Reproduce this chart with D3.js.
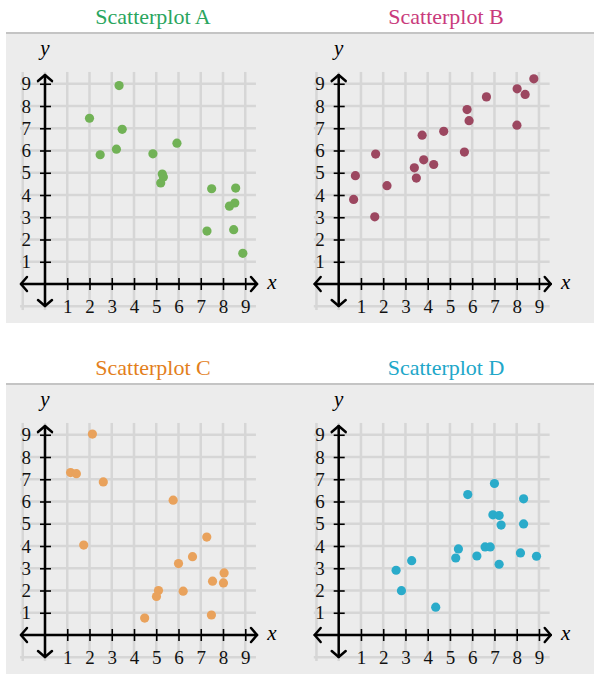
<!DOCTYPE html>
<html>
<head>
<meta charset="utf-8">
<script src="https://cdn.jsdelivr.net/npm/d3@7"></script>
<style>
  body { margin: 0; background: #fff; }
</style>
</head>
<body>
<script>
// chart data
const titles = ["Scatterplot A", "Scatterplot B", "Scatterplot C", "Scatterplot D"];
const tickValues = [1, 2, 3, 4, 5, 6, 7, 8, 9];
const gridValues = [-1, 0, 1, 2, 3, 4, 5, 6, 7, 8, 9];

const pointsA = [
    [2.0, 7.45], [3.33, 8.92], [3.47, 6.95], [2.48, 5.81], [3.21, 6.06],
    [4.85, 5.85], [5.93, 6.33], [5.27, 4.94], [5.32, 4.81], [5.2, 4.54],
    [7.49, 4.28], [8.57, 4.31], [8.29, 3.5], [8.53, 3.64], [7.28, 2.38],
    [8.48, 2.44], [8.89, 1.38]
];
const pointsB = [
    [0.67, 3.8], [0.75, 4.87], [1.62, 3.02], [1.66, 5.84], [2.17, 4.42],
    [3.4, 5.22], [3.49, 4.76], [3.75, 6.69], [3.82, 5.58], [4.27, 5.37],
    [4.72, 6.86], [5.65, 5.93], [5.77, 7.84], [5.86, 7.34], [6.64, 8.41],
    [8.01, 7.14], [8.02, 8.77], [8.38, 8.52], [8.77, 9.22]
];
const pointsC = [
    [1.15, 7.3], [1.41, 7.25], [2.13, 9.03], [2.62, 6.88], [1.74, 4.04],
    [5.76, 6.06], [7.27, 4.4], [6.63, 3.52], [6.0, 3.21], [8.05, 2.79],
    [7.53, 2.42], [8.02, 2.34], [6.21, 1.97], [5.1, 2.0], [5.01, 1.73],
    [4.48, 0.76], [7.48, 0.9]
];
const pointsD = [
    [2.58, 2.91], [2.82, 1.99], [3.28, 3.34], [4.36, 1.25], [5.26, 3.46],
    [5.38, 3.87], [5.8, 6.31], [6.21, 3.55], [6.58, 3.96], [6.81, 3.96],
    [7.0, 6.81], [6.93, 5.4], [7.21, 5.37], [7.3, 4.94], [7.21, 3.18],
    [8.17, 3.69], [8.31, 6.12], [8.31, 4.99], [8.89, 3.54]
];
const allPoints = [pointsA, pointsB, pointsC, pointsD];

// styling
const titleColors = ["#2aa55e", "#c93a7c", "#e37f1c", "#21a7c9"];
const dotColors = ["#71b256", "#9c4760", "#e9a25c", "#2aabca"];
const SERIF = "'Liberation Serif'";

const WIDTH = 598, HEIGHT = 680;
const UNIT = 22.25;
const COL_X = [45, 338.7];      // origin x per column
const COL_TITLE = [153, 446];
const ROW_TOP = [33, 384];      // grey rule per row

const svg = d3.select("body").append("svg")
    .attr("width", WIDTH)
    .attr("height", HEIGHT);

// row backgrounds
ROW_TOP.forEach(top => {
    svg.append("rect")
        .attr("x", 6).attr("y", top + 1)
        .attr("width", 588).attr("height", 289)
        .attr("fill", "#ececec");
    svg.append("line")
        .attr("x1", 6).attr("x2", 594)
        .attr("y1", top).attr("y2", top)
        .attr("stroke", "#c4c4c4")
        .attr("stroke-width", 2);
});

allPoints.forEach((points, i) => {
    const col = i % 2, row = Math.floor(i / 2);
    const ox = COL_X[col];
    const oy = ROW_TOP[row] + 251;

    const xScale = d3.scaleLinear().domain([0, 9]).range([ox, ox + 9 * UNIT]);
    const yScale = d3.scaleLinear().domain([0, 9]).range([oy, oy - 9 * UNIT]);

    const g = svg.append("g");

    // title
    svg.append("text")
        .attr("x", COL_TITLE[col])
        .attr("y", ROW_TOP[row] - 9)
        .attr("text-anchor", "middle")
        .style("font-family", SERIF)
        .style("font-size", "22px")
        .attr("fill", titleColors[i])
        .text(titles[i]);

    // grid
    g.append("g").selectAll("line")
        .data(gridValues)
        .join("line")
        .attr("x1", d => xScale(d)).attr("x2", d => xScale(d))
        .attr("y1", yScale(9.53)).attr("y2", yScale(-1.17))
        .attr("stroke", "#d6d6d6")
        .attr("stroke-width", 2.5);
    g.append("g").selectAll("line")
        .data(gridValues)
        .join("line")
        .attr("y1", d => yScale(d)).attr("y2", d => yScale(d))
        .attr("x1", xScale(-1.12)).attr("x2", xScale(9.48))
        .attr("stroke", "#d6d6d6")
        .attr("stroke-width", 2.5);

    // axis lines with arrow heads
    const axisLines = g.append("g")
        .attr("stroke", "#000")
        .attr("stroke-width", 2.5)
        .attr("fill", "none")
        .attr("stroke-linecap", "round")
        .attr("stroke-linejoin", "round");
    const x0 = xScale(-1.08), x1 = xScale(9.53);
    const y0 = yScale(-0.99), y1 = yScale(9.39);
    axisLines.append("line").attr("x1", x0).attr("x2", x1).attr("y1", oy).attr("y2", oy);
    axisLines.append("line").attr("x1", ox).attr("x2", ox).attr("y1", y0).attr("y2", y1);
    const head = 7;
    axisLines.append("path").attr("d", `M${x1 - 6},${oy - head}L${x1},${oy}L${x1 - 6},${oy + head}`);
    axisLines.append("path").attr("d", `M${x0 + 6},${oy - head}L${x0},${oy}L${x0 + 6},${oy + head}`);
    axisLines.append("path").attr("d", `M${ox - head},${y1 + 6}L${ox},${y1}L${ox + head},${y1 + 6}`);
    axisLines.append("path").attr("d", `M${ox - head},${y0 - 6}L${ox},${y0}L${ox + head},${y0 - 6}`);

    // ticks via d3 axes
    const xAxis = d3.axisBottom(xScale)
        .tickValues(tickValues)
        .tickSize(6)
        .tickPadding(10)
        .tickFormat(d3.format("d"));
    const xAxisG = g.append("g")
        .attr("transform", `translate(0, ${oy})`)
        .call(xAxis);
    xAxisG.select(".domain").remove();
    xAxisG.selectAll(".tick line")
        .attr("y1", -6).attr("y2", 6)
        .attr("stroke", "#000").attr("stroke-width", 1.6);
    xAxisG.selectAll(".tick text")
        .style("font-family", SERIF)
        .style("font-size", "19px")
        .attr("fill", "#111");

    const yAxis = d3.axisLeft(yScale)
        .tickValues(tickValues)
        .tickSize(5)
        .tickPadding(9)
        .tickFormat(d3.format("d"));
    const yAxisG = g.append("g")
        .attr("transform", `translate(${ox}, 0)`)
        .call(yAxis);
    yAxisG.select(".domain").remove();
    yAxisG.selectAll(".tick line")
        .attr("x1", -5).attr("x2", 6)
        .attr("stroke", "#000").attr("stroke-width", 1.6);
    yAxisG.selectAll(".tick text")
        .style("font-family", SERIF)
        .style("font-size", "19px")
        .attr("fill", "#111");

    // axis labels
    g.append("text")
        .attr("x", ox).attr("y", yScale(10.2) - 2)
        .attr("text-anchor", "middle")
        .style("font-family", SERIF)
        .style("font-size", "21px")
        .style("font-style", "italic")
        .text("y");
    g.append("text")
        .attr("x", xScale(10.2)).attr("y", oy + 5)
        .attr("text-anchor", "middle")
        .style("font-family", SERIF)
        .style("font-size", "21px")
        .style("font-style", "italic")
        .text("x");

    // points
    g.append("g").selectAll("circle")
        .data(points)
        .join("circle")
        .attr("cx", d => xScale(d[0]))
        .attr("cy", d => yScale(d[1]))
        .attr("r", 4.6)
        .attr("fill", dotColors[i]);
});
</script>
</body>
</html>
